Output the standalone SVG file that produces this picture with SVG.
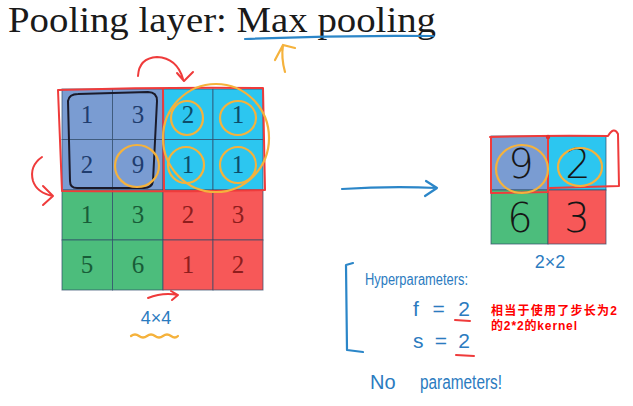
<svg xmlns="http://www.w3.org/2000/svg" width="633" height="406" viewBox="0 0 633 406">
<style>
.title{font-family:"Liberation Serif","DejaVu Serif",serif;font-size:35px;fill:#1a1a1a}
.num{font-family:"Liberation Serif","DejaVu Serif",serif;font-size:25px;text-anchor:middle}
.hnum{font-family:"DejaVu Sans","Liberation Sans",sans-serif;font-weight:200;font-size:40px;text-anchor:middle;fill:#161616}
.hand{font-family:"Liberation Sans","DejaVu Sans",sans-serif;fill:#2b7bbf}
.cn{font-family:"Liberation Sans","Noto Sans CJK SC",sans-serif;font-size:12px;font-weight:bold;fill:#ff0000}
.cell{stroke:#2f4a6a;stroke-width:1;stroke-opacity:0.7}
.b{fill:#7a9cd2}.c{fill:#2cc6f0}.g{fill:#4cbd7c}.r{fill:#f75858}
.tb{fill:#1f3d6e}.tc{fill:#0d4d6b}.tg{fill:#185c38}.tr{fill:#8e1d1d}
.red{fill:none;stroke:#ef3b3b;stroke-width:2;stroke-linecap:round;stroke-linejoin:round}
.org{fill:none;stroke:#f5b23c;stroke-width:2.2;stroke-linecap:round}
.blu{fill:none;stroke:#2b86c8;stroke-width:2.2;stroke-linecap:round;stroke-linejoin:round}
</style>

<g id="title">
<text class="title" x="8" y="32" textLength="428" lengthAdjust="spacingAndGlyphs">Pooling layer: Max pooling</text>
<path class="blu" d="M245,39 Q340,35 433,36"/>
<path class="org" d="M285,72 Q281,58 283,45 M275,60 L283,45 L295,48"/>
</g>

<g id="input-grid">
<rect class="cell b" x="62" y="89" width="50.5" height="50.5"/>
<rect class="cell b" x="112.5" y="89" width="50.5" height="50.5"/>
<rect class="cell c" x="163" y="89" width="50" height="50.5"/>
<rect class="cell c" x="213" y="89" width="50" height="50.5"/>
<rect class="cell b" x="62" y="139.5" width="50.5" height="50.5"/>
<rect class="cell b" x="112.5" y="139.5" width="50.5" height="50.5"/>
<rect class="cell c" x="163" y="139.5" width="50" height="50.5"/>
<rect class="cell c" x="213" y="139.5" width="50" height="50.5"/>
<rect class="cell g" x="62" y="190" width="50.5" height="50"/>
<rect class="cell g" x="112.5" y="190" width="50.5" height="50"/>
<rect class="cell r" x="163" y="190" width="50" height="50"/>
<rect class="cell r" x="213" y="190" width="50" height="50"/>
<rect class="cell g" x="62" y="240" width="50.5" height="50"/>
<rect class="cell g" x="112.5" y="240" width="50.5" height="50"/>
<rect class="cell r" x="163" y="240" width="50" height="50"/>
<rect class="cell r" x="213" y="240" width="50" height="50"/>
<text class="num tb" x="87" y="123">1</text>
<text class="num tb" x="138" y="123">3</text>
<text class="num tc" x="188" y="123">2</text>
<text class="num tc" x="238" y="123">1</text>
<text class="num tb" x="87" y="173">2</text>
<text class="num tb" x="138" y="173">9</text>
<text class="num tc" x="188" y="173">1</text>
<text class="num tc" x="238" y="173">1</text>
<text class="num tg" x="87" y="223">1</text>
<text class="num tg" x="138" y="223">3</text>
<text class="num tr" x="188" y="223">2</text>
<text class="num tr" x="238" y="223">3</text>
<text class="num tg" x="87" y="273">5</text>
<text class="num tg" x="138" y="273">6</text>
<text class="num tr" x="188" y="273">1</text>
<text class="num tr" x="238" y="273">2</text>
<path class="red" d="M58,90 Q160,87 263,88 L265,190 Q160,192 62,191 Z M163,89 L164,190"/>
<path fill="none" stroke="#1a1a2a" stroke-width="2" stroke-linejoin="round" d="M68,101 Q69,94 78,94 L148,92 Q157,92 157,101 L153,181 Q152,188 144,188 L77,188 Q70,188 70,181 Z"/>
<ellipse class="org" cx="137" cy="166" rx="22" ry="21"/>
<ellipse class="org" cx="187" cy="118" rx="16" ry="17"/>
<ellipse class="org" cx="238" cy="118" rx="18" ry="17"/>
<ellipse class="org" cx="186" cy="165" rx="18" ry="18"/>
<ellipse class="org" cx="238" cy="165" rx="18" ry="18"/>
<ellipse class="org" cx="216" cy="138" rx="53" ry="54"/>
<text class="hand" x="156" y="324" font-size="18" text-anchor="middle">4×4</text>
<path class="org" d="M131,336 q4,-3 8,0 t8,0 t8,0 t8,0 t8,0 t7,0"/>
</g>

<g id="output-grid">
<rect class="cell b" x="491" y="136" width="57" height="54"/>
<rect class="cell c" x="548" y="136" width="58" height="54"/>
<rect class="cell g" x="491" y="190" width="57" height="54"/>
<rect class="cell r" x="548" y="190" width="58" height="54"/>
<text class="hnum" x="521" y="178">9</text>
<text class="hnum" x="578" y="178">2</text>
<text class="hnum" x="520" y="232">6</text>
<text class="hnum" x="577" y="232">3</text>
<path class="red" d="M490,137 Q550,135 608,136 Q614,126 618,134 L619,186 L550,188 M491,137 L491,193 L548,192 L548,137"/>
<circle cx="548" cy="137" r="2.2" fill="#e23030"/>
<ellipse class="org" cx="522" cy="169" rx="26" ry="24"/>
<ellipse class="org" cx="580" cy="167" rx="22" ry="19"/>
<text class="hand" x="550" y="268" font-size="18" text-anchor="middle">2×2</text>
</g>

<g id="hyperparameters">
<path class="blu" d="M353,263 L346,265 L347,350 L363,352"/>
<text class="hand" x="365" y="285" font-size="16" textLength="103" lengthAdjust="spacingAndGlyphs">Hyperparameters:</text>
<text class="hand" x="413" y="316" font-size="21" textLength="57" lengthAdjust="spacing">f = 2</text>
<text class="hand" x="413" y="348" font-size="21" textLength="57" lengthAdjust="spacing">s = 2</text>
<path class="red" d="M455,320 L470,321 M456,355 L474,356"/>
<text class="hand" x="370" y="389" font-size="20">No</text>
<text class="hand" x="420" y="389" font-size="20" textLength="82" lengthAdjust="spacingAndGlyphs">parameters!</text>
</g>

<g id="note">
<text class="cn" x="491" y="315" textLength="126" lengthAdjust="spacing">相当于使用了步长为2</text>
<text class="cn" x="491" y="330" textLength="86" lengthAdjust="spacing">的2*2的kernel</text>
</g>

<g id="connectors">
<path class="blu" d="M342,189 Q390,186 437,188 M426,181 L437,188 L425,196"/>
<path class="red" d="M138,76 Q139,58 157,57 Q177,58 183,79 M177,73 L184,81 L193,72"/>
<path class="red" d="M42,157 Q29,166 33,181 Q37,193 53,196 M43,186 L53,196 L43,205"/>
<path class="red" d="M148,298 Q163,292 178,295 M171,291 L178,295 L172,300"/>
</g>
</svg>
